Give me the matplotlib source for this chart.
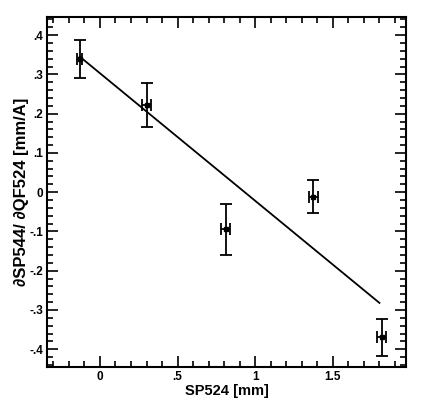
import matplotlib
matplotlib.use("Agg")
import matplotlib.pyplot as plt
import numpy as np
from matplotlib.ticker import MultipleLocator, FixedLocator, FixedFormatter

# Data
x_vals = [-0.13, 0.30, 0.81, 1.375, 1.815]
y_vals = [0.340, 0.221, -0.095, -0.012, -0.370]
y_err = [0.048, 0.056, 0.065, 0.042, 0.047]
x_err = [0.015, 0.028, 0.028, 0.028, 0.028]
fit_x = [-0.13, 1.80]
fit_slope = -0.325
fit_intercept = 0.303

x_ticks = [0, 0.5, 1, 1.5]
x_ticklabels = ["0", ".5", "1", "1.5"]
y_ticks = [-0.4, -0.3, -0.2, -0.1, 0, 0.1, 0.2, 0.3, 0.4]
y_ticklabels = ["-.4", "-.3", "-.2", "-.1", "0", ".1", ".2", ".3", ".4"]

plt.rcParams['font.family'] = ['Liberation Sans', 'DejaVu Sans']

fig = plt.figure(figsize=(4.21, 4.16), dpi=100)
ax = fig.add_axes([0.112, 0.118, 0.852, 0.84])

ax.errorbar(x_vals, y_vals, yerr=y_err, xerr=x_err, fmt='s', color='black',
            markersize=3, ecolor='black', elinewidth=1.3, capsize=4, capthick=1.3)
fx = np.array(fit_x)
ax.plot(fx, fit_intercept + fit_slope * fx, color='black', linewidth=1.3)

ax.set_xlim(-0.34, 1.97)
ax.set_ylim(-0.445, 0.445)

ax.xaxis.set_major_locator(FixedLocator(x_ticks))
ax.xaxis.set_major_formatter(FixedFormatter(x_ticklabels))
ax.yaxis.set_major_locator(FixedLocator(y_ticks))
ax.yaxis.set_major_formatter(FixedFormatter(y_ticklabels))
ax.xaxis.set_minor_locator(MultipleLocator(0.1))
ax.yaxis.set_minor_locator(MultipleLocator(0.02))

ax.tick_params(which='both', direction='in', top=True, right=True, width=1.2)
ax.tick_params(which='major', length=8, labelsize=8.5, pad=3)
ax.tick_params(which='minor', length=4)
for lab in ax.get_xticklabels() + ax.get_yticklabels():
    lab.set_fontweight('bold')
for s in ax.spines.values():
    s.set_linewidth(1.5)

ax.set_xlabel("SP524 [mm]", fontsize=10.5, fontweight='bold', labelpad=1)
ax.set_ylabel("\u2202SP544/ \u2202QF524 [mm/A]", fontsize=12, fontweight='bold', labelpad=0)

fig.savefig("out.png", dpi=100)
